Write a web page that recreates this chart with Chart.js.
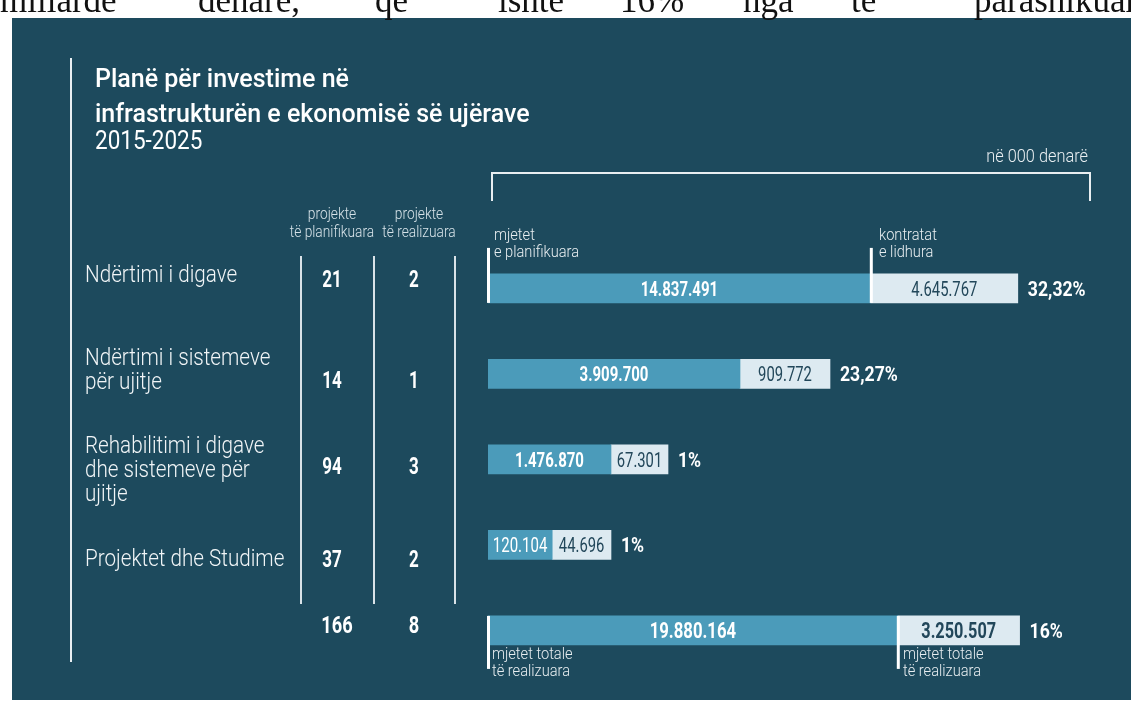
<!DOCTYPE html>
<html><head><meta charset="utf-8">
<script src="https://cdn.jsdelivr.net/npm/chart.js@4.4.1/dist/chart.umd.min.js"></script>
<style>
html,body{margin:0;padding:0;background:#fff;width:1131px;height:713px;overflow:hidden;position:relative}
#panel{position:absolute;left:12px;top:18px;width:1119px;height:682px;background:#1d4a5d}
#c{position:absolute;left:0;top:0;z-index:1}
.t{position:absolute;white-space:pre;z-index:2}
.ln{position:absolute;background:#dfe8ec;z-index:2}
</style></head><body>
<div id="panel"></div>
<canvas id="c" width="1131" height="713"></canvas>
<script>
// ---- data ----
const categories = [["Ndërtimi i digave"], ["Ndërtimi i sistemeve", "për ujitje"], ["Rehabilitimi i digave", "dhe sistemeve për", "ujitje"], ["Projektet dhe Studime"]];
const projectsPlanned = [21, 14, 94, 37];
const projectsRealized = [2, 1, 3, 2];
const projectsPlannedTotal = 166;
const projectsRealizedTotal = 8;
// last entry of each = total row
const fundsPlanned = [14837491, 3909700, 1476870, 120104, 19880164];
const fundsContracted = [4645767, 909772, 67301, 44696, 3250507];
const shareLabels = ["32,32%", "23,27%", "1%", "1%", "16%"];
// bar lengths as drawn in the infographic (not to scale), % of the bracket span
const barPlanned = [63.8, 42.0, 20.5, 10.7, 68.3];
const barContracted = [24.5, 15.0, 9.5, 9.8, 20.3];

// ---- helpers ----
const ROB = "'Roboto', 'DejaVu Sans', sans-serif";
const SER = "'Liberation Serif', 'DejaVu Serif', serif";
function place(lines, x, base, o) {
  const d = document.createElement('div');
  d.className = 't';
  const fs = o.size, lh = o.lh || fs;
  d.style.font = (o.weight || 400) + ' ' + fs + 'px ' + o.family;
  d.style.lineHeight = lh + 'px';
  d.style.color = o.color || '#ffffff';
  d.style.top = (base - lh / 2 - (o.k || 0.342) * fs) + 'px';
  d.textContent = lines.join('\n');
  const al = o.align || 'left';
  if (al === 'left') { d.style.left = x + 'px'; d.style.transformOrigin = 'left center'; }
  else if (al === 'center') { d.style.left = (x - 400) + 'px'; d.style.width = '800px'; d.style.textAlign = 'center'; d.style.transformOrigin = 'center center'; }
  else { d.style.left = (x - 800) + 'px'; d.style.width = '800px'; d.style.textAlign = 'right'; d.style.transformOrigin = 'right center'; }
  if (o.sx) d.style.transform = 'scaleX(' + o.sx + ')';
  document.body.appendChild(d);
}
function line(x, y, w, h, color) {
  const d = document.createElement('div');
  d.className = 'ln';
  d.style.left = x + 'px'; d.style.top = y + 'px'; d.style.width = w + 'px'; d.style.height = h + 'px';
  if (color) d.style.background = color;
  document.body.appendChild(d);
}
const fmt = n => String(n).replace(/\B(?=(\d{3})+(?!\d))/g, '.');

// ---- cropped text at the top ----
[["miliardë", 0], ["denarë,", 198], ["që", 375], ["ishte", 498], ["16%", 620], ["nga", 743], ["të", 851], ["parashikuarat", 974]]
  .forEach(w => place([w[0]], w[1], 12, {family: SER, size: 35, color: '#111', k: 0.3375}));

// ---- title ----
place(["Planë për investime në"], 95, 87, {family: ROB, size: 25, weight: 500});
place(["infrastrukturën e ekonomisë së ujërave"], 95, 122, {family: ROB, size: 25, weight: 500});
place(["2015-2025"], 95, 149, {family: ROB, size: 25, weight: 400, sx: 0.9});
line(70, 58, 2, 604, '#e9eff2');

// ---- unit + bracket ----
place(["në 000 denarë"], 1088, 162, {family: ROB, size: 19, weight: 300, align: 'right', sx: 0.86, color: '#e8eef1'});
(function () {
  const d = document.createElement('div');
  d.style.cssText = 'position:absolute;left:491px;top:172px;width:596px;height:27px;border:2px solid #e8eef1;border-bottom:none;z-index:2';
  document.body.appendChild(d);
})();

// ---- table ----
place(["projekte", "të planifikuara"], 332, 219, {family: ROB, size: 16, weight: 300, lh: 18, align: 'center', sx: 0.86, color: '#d6e2e8'});
place(["projekte", "të realizuara"], 419, 219, {family: ROB, size: 16, weight: 300, lh: 18, align: 'center', sx: 0.86, color: '#d6e2e8'});
[300, 373, 454].forEach(x => line(x, 256, 2, 348, '#d9e3e8'));

const catBase = [282, 365, 453, 566];
const numBase = [287, 388, 474, 567];
categories.forEach((c, i) => {
  place(c, 85, catBase[i], {family: ROB, size: 24, weight: 300, lh: 24, sx: 0.86, color: '#f1f5f7'});
  place([String(projectsPlanned[i])], 332, numBase[i], {family: ROB, size: 23, weight: 700, align: 'center', sx: 0.74});
  place([String(projectsRealized[i])], 414, numBase[i], {family: ROB, size: 23, weight: 700, align: 'center', sx: 0.74});
});
place([String(projectsPlannedTotal)], 337, 633, {family: ROB, size: 24, weight: 700, align: 'center', sx: 0.76});
place([String(projectsRealizedTotal)], 414, 633, {family: ROB, size: 24, weight: 700, align: 'center', sx: 0.76});

// ---- marker captions ----
place(["mjetet", "e planifikuara"], 494, 240, {family: ROB, size: 17, weight: 300, lh: 17, sx: 0.86, color: '#e8eef1'});
place(["kontratat", "e lidhura"], 879, 240, {family: ROB, size: 17, weight: 300, lh: 17, sx: 0.86, color: '#e8eef1'});
place(["mjetet totale", "të realizuara"], 492, 659, {family: ROB, size: 17, weight: 300, lh: 17, sx: 0.86, color: '#e8eef1'});
place(["mjetet totale", "të realizuara"], 903, 659, {family: ROB, size: 17, weight: 300, lh: 17, sx: 0.86, color: '#e8eef1'});

// ---- chart ----
function ctxText(ctx, s, x, yc, size, weight, color, align, sx) {
  ctx.save();
  ctx.translate(x, yc + 0.355 * size);
  ctx.scale(sx, 1);
  ctx.font = weight + ' ' + size + 'px ' + ROB;
  ctx.fillStyle = color;
  ctx.textAlign = align;
  ctx.textBaseline = 'alphabetic';
  ctx.fillText(s, 0, 0);
  ctx.restore();
}
const labelPlugin = {
  id: 'barLabels',
  afterDatasetsDraw(chart) {
    const ctx = chart.ctx;
    const m0 = chart.getDatasetMeta(0), m1 = chart.getDatasetMeta(1);
    const last = fundsPlanned.length - 1;
    m0.data.forEach((b0, i) => {
      const b1 = m1.data[i];
      const y = b0.y, h = b0.height;
      const xs = b0.base, xm = b0.x, xe = b1.x;
      const big = i === last;
      ctxText(ctx, fmt(fundsPlanned[i]), (xs + xm) / 2, y, big ? 22 : 20, i === 3 ? 400 : 700, '#ffffff', 'center', big ? 0.76 : 0.75);
      ctxText(ctx, fmt(fundsContracted[i]), (xm + xe) / 2, y, big ? 22 : 20, big ? 700 : 400, '#22475a', 'center', 0.74);
      ctxText(ctx, shareLabels[i], xe + 10, y, 21, 700, '#ffffff', 'left', 0.84);
      ctx.fillStyle = '#ffffff';
      if (i === 0) {
        ctx.fillRect(xs - 1, y - h / 2 - 26, 3, h + 26);
        ctx.fillRect(xm - 1, y - h / 2 - 26, 3, h + 26);
      }
      if (big) {
        ctx.fillRect(xs - 1, y - h / 2, 3, h + 24);
        ctx.fillRect(xm - 1, y - h / 2, 3, h + 24);
      }
    });
  }
};
const rowLabels = categories.map(c => c.join(' ')).concat(['']);
new Chart(document.getElementById('c'), {
  type: 'bar',
  data: {
    labels: rowLabels,
    datasets: [
      {label: 'mjetet e planifikuara', data: barPlanned, backgroundColor: '#4b9bba', barThickness: 29, borderWidth: 0},
      {label: 'kontratat e lidhura', data: barContracted, backgroundColor: '#ddeaf1', barThickness: 29, borderWidth: 0}
    ]
  },
  options: {
    indexAxis: 'y', responsive: false, animation: false, devicePixelRatio: 1,
    layout: {padding: {left: 488, right: 43, top: 245.65, bottom: 39.85}},
    scales: {
      x: {stacked: true, min: 0, max: 100, display: false},
      y: {stacked: true, display: false}
    },
    plugins: {legend: {display: false}, tooltip: {enabled: false}}
  },
  plugins: [labelPlugin]
});
</script></body></html>
